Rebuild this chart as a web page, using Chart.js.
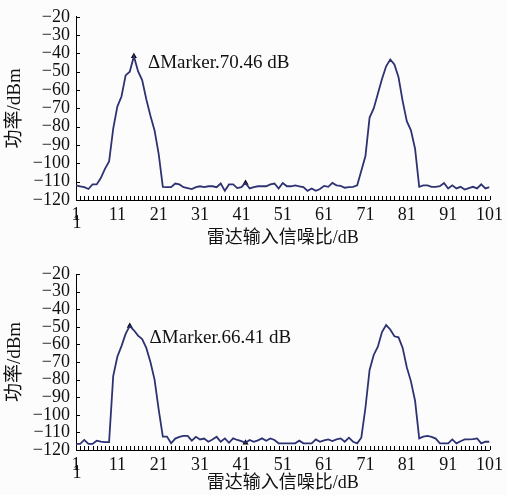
<!DOCTYPE html>
<html>
<head>
<meta charset="utf-8">
<script src="https://cdn.jsdelivr.net/npm/chart.js@4.4.1/dist/chart.umd.min.js"></script>
<style>
  html, body { margin: 0; padding: 0; background: #fcfcfc; }
  #wrap { position: relative; width: 507px; height: 495px; overflow: hidden; }
  .box { position: absolute; left: 0; width: 507px; }
  #top { top: 0; height: 250px; }
  #bot { top: 250px; height: 245px; }
</style>
</head>
<body>
<div id="wrap">
  <div class="box" id="top"><canvas id="c1"></canvas></div>
  <div class="box" id="bot"><canvas id="c2"></canvas></div>
</div>
<script>
// x axis: radar input SNR (dB), one sample per step 1..101
const xTicks = [1, 11, 21, 31, 41, 51, 61, 71, 81, 91, 101];
const yTicksMin = -120;
const yTicksMax = -20;

// upper trace, power in dBm
const topPower = [
  -112, -112.5, -113, -114, -111.5, -111.5, -108, -103, -99, -81,
  -69, -63.5, -52, -50, -41.5, -49.7, -54.5, -65, -74, -82,
  -95, -112.8, -113, -113, -111, -111.5, -113, -113.5, -114, -113,
  -112.5, -113, -112.5, -112.5, -113, -111, -115, -111.5, -111.5, -113.5,
  -113, -110.7, -113.7, -113, -112.5, -112.5, -112.5, -111.5, -111, -113.7,
  -110.7, -112.5, -112.5, -112, -112.5, -113, -115, -113.7, -115, -114,
  -112.3, -112.8, -110.7, -112, -112.3, -113.3, -113, -112.8, -112, -104,
  -96, -75, -70, -62, -54, -47, -43.3, -46, -53, -66,
  -77, -82, -92, -112.8, -112, -112, -112.8, -112.8, -112.5, -110.7,
  -113.7, -112, -113.7, -112.8, -114.3, -113.5, -112.8, -113.7, -111.4, -113.7,
  -113
];

// lower trace, power in dBm
const botPower = [
  -116.5, -116.5, -114.3, -116.5, -116.5, -114.7, -115.3, -115.5, -115.5, -78,
  -67, -61, -54, -49.5, -52, -55, -57, -62, -70, -80,
  -97, -112.4, -112.4, -116.2, -113.5, -112.5, -112, -112, -114.7, -112.5,
  -114, -113.5, -115.3, -114, -112.5, -115.3, -113.4, -115.9, -113.4, -114.3,
  -115, -115.9, -114.3, -115.3, -114.5, -113.4, -114.7, -113.4, -114.3, -116.2,
  -116.2, -116.2, -116.2, -116.2, -114.7, -116.2, -116.2, -116.2, -114, -115.3,
  -114.5, -114, -114.9, -114, -113.4, -115.3, -113, -115.3, -116.2, -113,
  -96, -74.5, -66, -61.3, -53, -49, -51.5, -55.4, -56, -62,
  -73, -81, -92, -113.4, -112.4, -112, -112.5, -113.5, -116.2, -116.2,
  -116.2, -114, -116.2, -115, -114, -114, -113.8, -113.4, -116.2, -115.3,
  -115.3
];

// marker points (x = SNR index, y = dBm)
const topMarkers = [{ x: 15, y: -41.5 }, { x: 42, y: -110.7 }];
const botMarkers = [{ x: 14, y: -49.5 }, { x: 42, y: -115.9 }];

const topNote = 'ΔMarker.70.46 dB';
const botNote = 'ΔMarker.66.41 dB';

const FONT = '"Liberation Serif", "Noto Sans CJK SC", serif';
const txt = { family: FONT, size: 18 };
Chart.defaults.font.family = FONT;
Chart.defaults.font.size = 18;
Chart.defaults.color = '#111';

const axisDecor = {
  id: 'axisDecor',
  afterDraw(chart, args, opts) {
    const { ctx, scales: { x, y } } = chart;
    ctx.save();
    ctx.strokeStyle = '#000';
    ctx.lineWidth = 1;
    ctx.beginPath();
    for (let v = x.min; v <= x.max; v++) {
      const px = Math.round(x.getPixelForValue(v)) + 0.5;
      ctx.moveTo(px, y.bottom);
      ctx.lineTo(px, y.bottom - 4);
    }
    y.ticks.forEach(t => {
      const py = Math.round(y.getPixelForValue(t.value)) + 0.5;
      ctx.moveTo(x.left, py);
      ctx.lineTo(x.left + 4, py);
    });
    ctx.stroke();

    ctx.fillStyle = '#111';
    ctx.font = '19px ' + FONT;
    ctx.textBaseline = 'middle';
    ctx.textAlign = 'left';
    ctx.fillText(opts.text, x.getPixelForValue(opts.at[0]), y.getPixelForValue(opts.at[1]));

    // the stray second "1" under the first x label
    ctx.font = '18px ' + FONT;
    ctx.textAlign = 'center';
    ctx.fillText('1', x.getPixelForValue(xTicks[0]) + 1, y.bottom + 23);
    ctx.restore();
  }
};

function makeChart(id, power, markers, note, at, pad, xHeight) {
  return new Chart(document.getElementById(id), {
    type: 'line',
    data: {
      datasets: [
        {
          data: power.map((v, i) => ({ x: i + 1, y: v })),
          borderColor: '#2e3272',
          borderWidth: 1.8,
          pointRadius: 0,
          tension: 0,
          fill: false,
        },
        {
          data: markers,
          showLine: false,
          pointStyle: 'triangle',
          pointRadius: 3.5,
          backgroundColor: '#000',
          borderColor: '#000',
          borderWidth: 0,
        },
      ],
    },
    options: {
      responsive: true,
      maintainAspectRatio: false,
      animation: false,
      events: [],
      layout: { padding: pad },
      plugins: {
        legend: { display: false },
        tooltip: { enabled: false },
        axisDecor: { text: note, at },
      },
      scales: {
        x: {
          type: 'linear',
          min: 1,
          max: 101,
          afterBuildTicks: s => { s.ticks = xTicks.map(v => ({ value: v })); },
          afterFit: s => { s.height = xHeight; },
          ticks: { autoSkip: false, maxRotation: 0, padding: 4, font: txt, color: '#111' },
          grid: { drawOnChartArea: false, drawTicks: false },
          border: { display: true, color: '#000', width: 1 },
          title: { display: true, text: '雷达输入信噪比/dB', font: txt, color: '#111', padding: { top: 0, bottom: 1 } },
        },
        y: {
          min: yTicksMin,
          max: yTicksMax,
          afterFit: s => { s.width = 76; },
          ticks: {
            stepSize: 10,
            autoSkip: false,
            padding: 6,
            font: txt,
            color: '#111',
            callback: v => (v < 0 ? '\u2212' + Math.abs(v) : String(v)),
          },
          grid: { drawOnChartArea: false, drawTicks: false },
          border: { display: true, color: '#000', width: 1 },
          title: { display: true, text: '功率/dBm', font: { family: FONT, size: 19 }, color: '#111', padding: { top: 4, bottom: 0 } },
        },
      },
    },
    plugins: [axisDecor],
  });
}

makeChart('c1', topPower, topMarkers, topNote, [18.4, -45.3], { top: 14, right: 17, left: 0, bottom: 0 }, 50);
makeChart('c2', botPower, botMarkers, botNote, [18.8, -56.4], { top: 24, right: 16, left: 0, bottom: 0 }, 45);
</script>
</body>
</html>
